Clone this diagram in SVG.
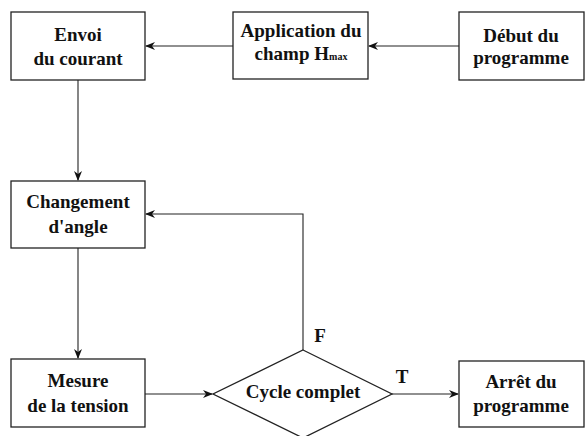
<svg xmlns="http://www.w3.org/2000/svg" width="585" height="436" viewBox="0 0 585 436">
<style>
.box{fill:#fff;stroke:#222;stroke-width:1.3}
.t{font-family:"Liberation Serif","Times New Roman",serif;font-weight:bold;font-size:19px;fill:#111;text-anchor:middle}
.sub{font-size:10px}
.c{fill:none;stroke:#222;stroke-width:1.1}
</style>
<defs>
<marker id="ah" markerWidth="10" markerHeight="8" refX="9" refY="4" orient="auto" markerUnits="userSpaceOnUse">
<path d="M0,0 L10,4 L0,8 L3,4 Z" fill="#111"/>
</marker>
</defs>
<rect width="585" height="436" fill="#fff"/>
<g id="connectors">
<line class="c" x1="459" y1="46" x2="369" y2="46" marker-end="url(#ah)"/>
<line class="c" x1="233" y1="46" x2="146" y2="46" marker-end="url(#ah)"/>
<line class="c" x1="78" y1="80" x2="78" y2="180" marker-end="url(#ah)"/>
<line class="c" x1="78" y1="248" x2="78" y2="358" marker-end="url(#ah)"/>
<line class="c" x1="145" y1="394" x2="212" y2="394" marker-end="url(#ah)"/>
<polyline class="c" points="303,350 303,214 146,214" marker-end="url(#ah)"/>
<line class="c" x1="392" y1="394" x2="458" y2="394" marker-end="url(#ah)"/>
<text class="t" x="320" y="342">F</text>
<text class="t" x="402" y="383">T</text>
</g>
<g id="envoi">
<rect class="box" x="11" y="12" width="134" height="68"/>
<text class="t" x="78" y="41">Envoi</text>
<text class="t" x="78" y="65">du courant</text>
</g>
<g id="application">
<rect class="box" x="233" y="12" width="135" height="67"/>
<text class="t" x="301" y="37">Application du</text>
<text class="t" x="301" y="60">champ H<tspan class="sub">max</tspan></text>
</g>
<g id="debut">
<rect class="box" x="459" y="12" width="125" height="68"/>
<text class="t" x="521" y="42">Début du</text>
<text class="t" x="521" y="64">programme</text>
</g>
<g id="changement">
<rect class="box" x="11" y="181" width="134" height="67"/>
<text class="t" x="78" y="208">Changement</text>
<text class="t" x="78" y="233">d'angle</text>
</g>
<g id="mesure">
<rect class="box" x="11" y="359" width="134" height="68"/>
<text class="t" x="78" y="387">Mesure</text>
<text class="t" x="78" y="412">de la tension</text>
</g>
<g id="cycle">
<polygon class="box" points="303,350 392,394 303,438 213,394"/>
<text class="t" x="303" y="398">Cycle complet</text>
</g>
<g id="arret">
<rect class="box" x="459" y="361" width="125" height="66"/>
<text class="t" x="521" y="388">Arrêt du</text>
<text class="t" x="521" y="412">programme</text>
</g>
</svg>
